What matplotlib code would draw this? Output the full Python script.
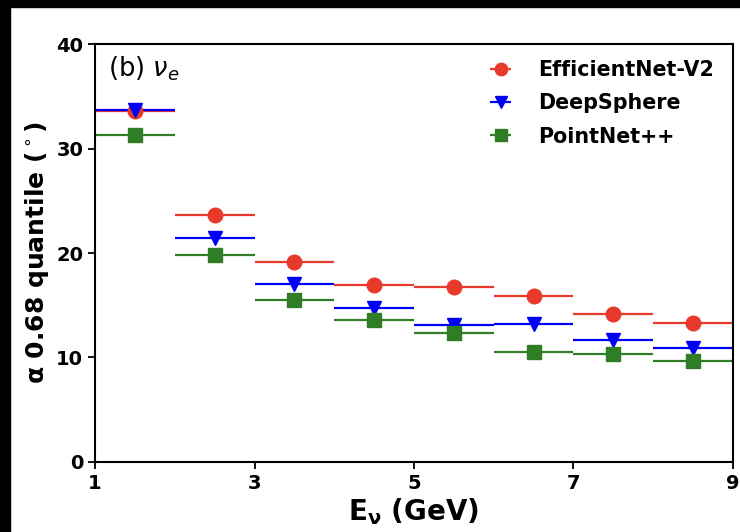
import matplotlib

matplotlib.use("Agg")
import matplotlib.pyplot as plt
from matplotlib.patches import Rectangle
import numpy as np

# energy bins (GeV) and alpha 0.68 quantile (deg) per model
bin_edges = [1, 2, 3, 4, 5, 6, 7, 8, 9]
efficientnet = [33.6, 23.6, 19.1, 16.9, 16.7, 15.9, 14.2, 13.3]
deepsphere = [33.7, 21.4, 17.0, 14.7, 13.1, 13.2, 11.7, 10.9]
pointnet = [31.3, 19.8, 15.5, 13.6, 12.3, 10.5, 10.3, 9.7]

series = [
    ("EfficientNet-V2", efficientnet, "o", "#e8392b"),
    ("DeepSphere", deepsphere, "v", "#0000f5"),
    ("PointNet++", pointnet, "s", "#2f7d25"),
]


def main() -> None:
    edges = np.array(bin_edges, dtype=float)
    centers = 0.5 * (edges[:-1] + edges[1:])
    half = 0.5 * np.diff(edges)

    fig = plt.figure(figsize=(7.4, 5.32), dpi=100)
    ax = fig.add_axes([0.1284, 0.1321, 0.8621, 0.7846])

    for label, values, marker, color in series:
        ax.errorbar(
            centers,
            values,
            xerr=half,
            fmt=marker,
            color=color,
            ecolor=color,
            elinewidth=1.6,
            markersize=10.5,
            capsize=0,
            label=label,
        )

    ax.set_xlim(1, 9)
    ax.set_ylim(0, 40)
    ax.set_xticks([1, 3, 5, 7, 9])
    ax.set_yticks([0, 10, 20, 30, 40])
    ax.tick_params(direction="out", length=5, width=1.3, labelsize=14)
    for lbl in ax.get_xticklabels() + ax.get_yticklabels():
        lbl.set_fontweight("bold")
    for spine in ax.spines.values():
        spine.set_linewidth(1.5)

    ax.set_xlabel(r"E$_\mathbf{\nu}$ (GeV)", fontsize=20, fontweight="bold", labelpad=3)
    ax.set_ylabel("α 0.68 quantile ($^\\circ$)", fontsize=18, fontweight="bold", labelpad=4)
    ax.text(0.02, 0.975, r"(b) $\nu_e$", transform=ax.transAxes, fontsize=18.5,
            ha="left", va="top")

    ax.legend(loc="upper right", bbox_to_anchor=(1.0, 1.0096), frameon=False,
              prop={"weight": "bold", "size": 14.85},
              handlelength=0.8, handletextpad=1.4, labelspacing=0.65,
              markerscale=0.85, borderaxespad=0.55)

    # black border strips along the left and top of the original image
    fig.patches.append(Rectangle((0, 0), 10 / 740, 1, transform=fig.transFigure,
                                 color="black", zorder=10))
    fig.patches.append(Rectangle((0, 1 - 7 / 532), 1, 7 / 532, transform=fig.transFigure,
                                 color="black", zorder=10))

    fig.savefig("out.png", dpi=100)
    plt.close(fig)


if __name__ == "__main__":
    main()
